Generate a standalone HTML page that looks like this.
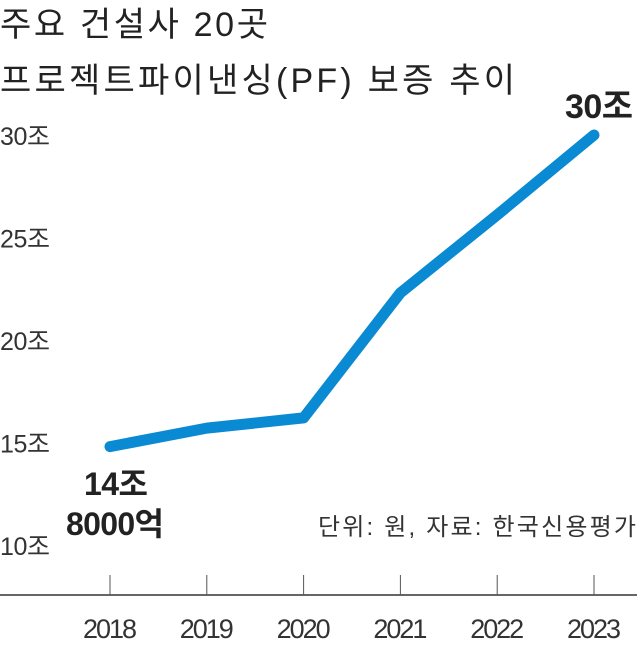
<!DOCTYPE html>
<html><head><meta charset="utf-8"><style>
body{margin:0;background:#fff;width:641px;height:650px;overflow:hidden}
svg text{font-family:"Liberation Sans Narrow","Liberation Sans","Noto Sans CJK KR",sans-serif}
</style></head><body>
<svg id="c" width="641" height="650">
<text x="0" y="36" font-size="34" fill="#222" textLength="268">주요 건설사 20곳</text>
<text x="0" y="92" font-size="34" fill="#222" textLength="515">프로젝트파이낸싱(PF) 보증 추이</text>
<text x="636" y="535" font-size="24" fill="#333" text-anchor="end" textLength="318">단위: 원, 자료: 한국신용평가</text>
<g id="axes"></g><g id="marks"></g>
<text x="84" y="495" font-size="32" font-weight="bold" fill="#222" textLength="64">14조</text>
<text x="66" y="535" font-size="32" font-weight="bold" fill="#222" textLength="98">8000억</text>
<text x="565" y="118" font-size="34" font-weight="bold" fill="#222" textLength="68">30조</text>
</svg>
<script>
const years=["2018","2019","2020","2021","2022","2023"];
const values=[14.8,15.7,16.2,22.3,26.1,30.0];
const yTicks=[10,15,20,25,30];
const yTickLabels=["10조","15조","20조","25조","30조"];
const NS="http://www.w3.org/2000/svg";
function x(i){return 110+i*96.8;}
function y(v){return 545-(v-10)*20.5;}
function mk(t,a,p){const e=document.createElementNS(NS,t);for(const k in a)e.setAttribute(k,a[k]);p.appendChild(e);return e;}
const ax=document.getElementById('axes'),mg=document.getElementById('marks');
const base=mk('line',{x1:0,x2:637,y1:595,y2:595,stroke:'#333','stroke-width':1.5},ax);


yTicks.forEach((v,i)=>{const t=mk('text',{x:0,y:y(v)+10,'font-size':25,fill:'#333',textLength:50},ax);t.textContent=yTickLabels[i];

});
years.forEach((yr,i)=>{const l=mk('line',{x1:x(i),x2:x(i),y1:575,y2:595,stroke:'#555','stroke-width':1},ax);


const t=mk('text',{x:x(i),y:638,'font-size':27,fill:'#333','text-anchor':'middle',textLength:54},ax);t.textContent=yr;

});
const p=mk('polyline',{points:values.map((v,i)=>x(i)+','+y(v)).join(' '),fill:'none',stroke:'#0a8ad3','stroke-width':11,'stroke-linecap':'round','stroke-linejoin':'round'},mg);


</script>
</body></html>
